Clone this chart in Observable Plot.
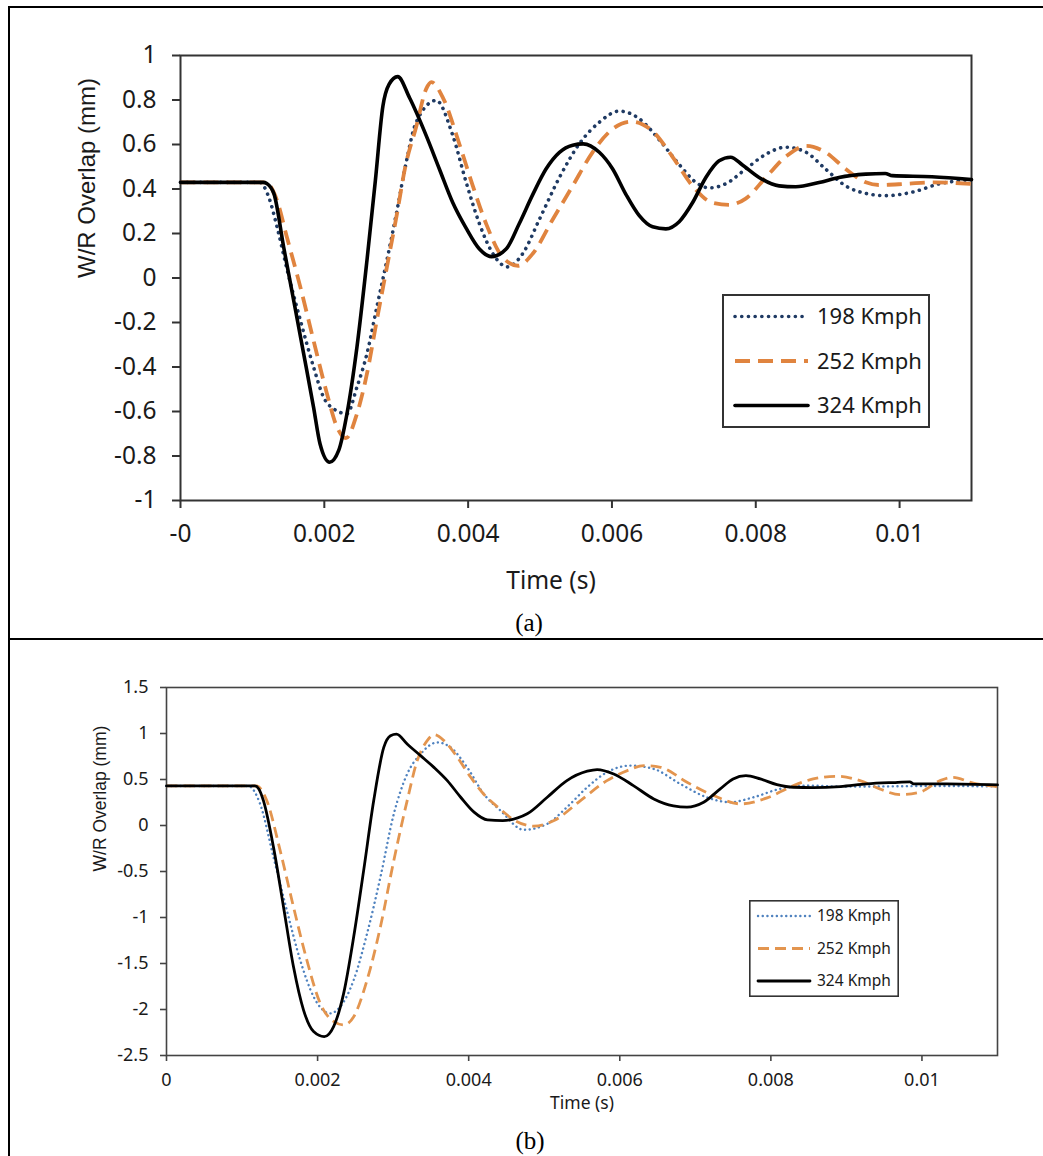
<!DOCTYPE html>
<html><head><meta charset="utf-8">
<script src="https://cdn.jsdelivr.net/npm/d3@7"></script>
<script src="https://cdn.jsdelivr.net/npm/@observablehq/plot@0.6"></script>
<style>
body{margin:0;background:#fff;}
#wrap{position:relative;width:1043px;height:1156px;overflow:hidden;font-family:"Noto Sans",sans-serif;background:#fff;}
.panel{position:absolute;left:0;width:1043px;}
.rule{position:absolute;background:#000;}
.cap{position:absolute;font-family:"Liberation Serif",serif;font-size:25px;color:#000;transform:translate(-50%,-50%);white-space:nowrap;}
.legend{position:absolute;}
</style></head><body><div id="wrap"></div>
<script>
// ---------- shared ----------
const seriesNames = ["198 Kmph", "252 Kmph", "324 Kmph"];
const xTicks = [0, 0.002, 0.004, 0.006, 0.008, 0.01];
const xLabelsA = ["-0", "0.002", "0.004", "0.006", "0.008", "0.01"];
const xLabelsB = ["0", "0.002", "0.004", "0.006", "0.008", "0.01"];
const yTicksA = [-1, -0.8, -0.6, -0.4, -0.2, 0, 0.2, 0.4, 0.6, 0.8, 1];
const yLabelsA = ["-1", "-0.8", "-0.6", "-0.4", "-0.2", "0", "0.2", "0.4", "0.6", "0.8", "1"];
const yTicksB = [-2.5, -2, -1.5, -1, -0.5, 0, 0.5, 1, 1.5];
const yLabelsB = ["-2.5", "-2", "-1.5", "-1", "-0.5", "0", "0.5", "1", "1.5"];
const xTitle = "Time (s)";
const yTitle = "W/R Overlap (mm)";

// ---------- panel (a) data ----------
const a198_t = [0, 0.0011, 0.00122, 0.00135, 0.00148, 0.001667, 0.00185, 0.00199, 0.00213, 0.002315, 0.002454, 0.002593, 0.00273, 0.00287, 0.00301, 0.003125, 0.003278, 0.003556, 0.003787, 0.00397, 0.004157, 0.004343, 0.004546, 0.00476, 0.00499, 0.00527, 0.005546, 0.005824, 0.0061, 0.00638, 0.00666, 0.006935, 0.007167, 0.00735, 0.00758, 0.00786, 0.00814, 0.00842, 0.0087, 0.00897, 0.00925, 0.00953, 0.0098, 0.01018, 0.01055, 0.011];
const a198_y = [0.43, 0.43, 0.37, 0.22, 0.04, -0.19, -0.40, -0.536, -0.588, -0.61, -0.49, -0.34, -0.131, 0.079, 0.303, 0.498, 0.70, 0.798, 0.64, 0.433, 0.244, 0.11, 0.05, 0.11, 0.263, 0.452, 0.603, 0.70, 0.75, 0.716, 0.62, 0.51, 0.43, 0.405, 0.423, 0.49, 0.556, 0.588, 0.565, 0.49, 0.414, 0.38, 0.37, 0.386, 0.423, 0.442];
const a252_t = [0, 0.00118, 0.001343, 0.00148, 0.001667, 0.00185, 0.002037, 0.002176, 0.0023, 0.002454, 0.002593, 0.00273, 0.00287, 0.00301, 0.003125, 0.003278, 0.003417, 0.00349, 0.00365, 0.00388, 0.004065, 0.00425, 0.00448, 0.004694, 0.0049, 0.005176, 0.005454, 0.00573, 0.00601, 0.00627, 0.006565, 0.00684, 0.00712, 0.0074, 0.00763, 0.00786, 0.00814, 0.00842, 0.0087, 0.00897, 0.00925, 0.00953, 0.00971, 0.01008, 0.01045, 0.011];
const a252_y = [0.43, 0.43, 0.348, 0.183, -0.041, -0.281, -0.52, -0.67, -0.72, -0.61, -0.43, -0.19, 0.049, 0.288, 0.498, 0.68, 0.85, 0.88, 0.81, 0.60, 0.414, 0.244, 0.093, 0.055, 0.11, 0.263, 0.414, 0.565, 0.67, 0.703, 0.66, 0.546, 0.414, 0.338, 0.329, 0.357, 0.452, 0.546, 0.594, 0.565, 0.49, 0.43, 0.418, 0.423, 0.43, 0.423];
const a324_t = [0, 0.00115, 0.0012, 0.0013, 0.001435, 0.001574, 0.001713, 0.00185, 0.00194, 0.002074, 0.0022, 0.002315, 0.002454, 0.002593, 0.00271, 0.002815, 0.0029, 0.00302, 0.003185, 0.003417, 0.0036, 0.003787, 0.00397, 0.004157, 0.004324, 0.004528, 0.00471, 0.0049, 0.005083, 0.00527, 0.005454, 0.0056, 0.005824, 0.00601, 0.006194, 0.00638, 0.006565, 0.00675, 0.006935, 0.00712, 0.007306, 0.00749, 0.00765, 0.007815, 0.008046, 0.008324, 0.008556, 0.00888, 0.009157, 0.00953, 0.0098, 0.0099, 0.01045, 0.011];
const a324_y = [0.43, 0.43, 0.425, 0.378, 0.138, -0.101, -0.341, -0.58, -0.745, -0.828, -0.775, -0.61, -0.31, 0.079, 0.438, 0.773, 0.87, 0.905, 0.81, 0.64, 0.49, 0.338, 0.225, 0.13, 0.096, 0.13, 0.244, 0.376, 0.49, 0.565, 0.597, 0.603, 0.565, 0.49, 0.376, 0.28, 0.23, 0.221, 0.253, 0.338, 0.452, 0.527, 0.543, 0.508, 0.452, 0.414, 0.41, 0.429, 0.452, 0.467, 0.47, 0.46, 0.455, 0.442];

// ---------- panel (b) data ----------
const b198_t = [0, 0.00108, 0.001239, 0.001416, 0.001593, 0.00177, 0.001947, 0.002168, 0.0023, 0.002478, 0.002655, 0.002832, 0.003009, 0.003186, 0.003363, 0.003584, 0.003761, 0.00398, 0.0042, 0.00442, 0.00473, 0.00504, 0.0053, 0.00557, 0.00583, 0.00614, 0.00645, 0.0068, 0.00715, 0.00746, 0.00777, 0.00812, 0.00848, 0.00892, 0.0095, 0.0102, 0.011];
const b198_y = [0.43, 0.43, 0.235, -0.343, -0.922, -1.464, -1.861, -2.042, -1.97, -1.68, -1.175, -0.56, 0.126, 0.56, 0.777, 0.903, 0.849, 0.632, 0.343, 0.163, -0.047, 0.018, 0.199, 0.416, 0.579, 0.651, 0.615, 0.452, 0.307, 0.253, 0.307, 0.398, 0.434, 0.423, 0.425, 0.43, 0.425];
const b252_t = [0, 0.00119, 0.001327, 0.001504, 0.001681, 0.001858, 0.002035, 0.002212, 0.002345, 0.002478, 0.002655, 0.002832, 0.003009, 0.003186, 0.003319, 0.003451, 0.00354, 0.003673, 0.00385, 0.004027, 0.0042, 0.0044, 0.0046, 0.00486, 0.00513, 0.00548, 0.00583, 0.0061, 0.00632, 0.00654, 0.00689, 0.00724, 0.0076, 0.00795, 0.0083, 0.00856, 0.00887, 0.00918, 0.00944, 0.00971, 0.00997, 0.01024, 0.01041, 0.01068, 0.011];
const b252_y = [0.43, 0.43, 0.271, -0.271, -0.885, -1.464, -1.933, -2.13, -2.168, -2.078, -1.68, -1.1, -0.38, 0.271, 0.705, 0.922, 0.987, 0.922, 0.741, 0.524, 0.34, 0.19, 0.06, -0.007, 0.054, 0.271, 0.488, 0.597, 0.651, 0.633, 0.47, 0.326, 0.235, 0.3, 0.434, 0.506, 0.535, 0.488, 0.398, 0.336, 0.362, 0.488, 0.524, 0.46, 0.423];
const b324_t = [0, 0.00117, 0.00122, 0.001283, 0.001416, 0.001549, 0.001681, 0.001814, 0.001947, 0.002088, 0.002212, 0.002345, 0.002478, 0.00261, 0.002743, 0.002876, 0.002965, 0.003044, 0.003186, 0.003363, 0.00354, 0.003717, 0.003894, 0.004071, 0.004248, 0.00445, 0.004775, 0.00504, 0.0053, 0.00557, 0.0057, 0.00592, 0.00618, 0.00645, 0.00671, 0.00689, 0.00711, 0.00733, 0.0075, 0.00767, 0.00786, 0.00808, 0.0083, 0.00856, 0.00892, 0.00927, 0.00962, 0.00984, 0.00989, 0.01033, 0.011];
const b324_y = [0.43, 0.43, 0.40, 0.27, -0.235, -0.885, -1.536, -2.006, -2.24, -2.295, -2.186, -1.825, -1.21, -0.488, 0.271, 0.849, 0.976, 0.994, 0.885, 0.759, 0.632, 0.488, 0.307, 0.145, 0.061, 0.054, 0.127, 0.307, 0.488, 0.59, 0.608, 0.56, 0.434, 0.289, 0.213, 0.199, 0.253, 0.398, 0.506, 0.542, 0.506, 0.445, 0.416, 0.412, 0.423, 0.452, 0.467, 0.474, 0.452, 0.452, 0.441];

// ---------- styles ----------
const stylesA = [
  {color: "#1f3a63", width: 3.6, dash: "0.1,6.6", cap: "round"},
  {color: "#e0843f", width: 3.8, dash: "15,8", cap: "butt"},
  {color: "#000000", width: 3.6, dash: null, cap: "round"}
];
const stylesB = [
  {color: "#4f82bf", width: 2.4, dash: "0.1,4.6", cap: "round"},
  {color: "#e3954f", width: 2.8, dash: "11,6", cap: "butt"},
  {color: "#000000", width: 2.8, dash: null, cap: "round"}
];

function rows(t, y) { return t.map((v, i) => ({t: v, y: y[i]})); }

function makePanel(cfg) {
  const marks = [Plot.frame({stroke: cfg.frameColor, strokeWidth: cfg.frameWidth})];
  cfg.series.forEach((s, k) => {
    const st = cfg.styles[k];
    marks.push(Plot.line(rows(s.t, s.y), {
      x: "t", y: "y", stroke: st.color, strokeWidth: st.width,
      strokeDasharray: st.dash || undefined, strokeLinecap: st.cap, strokeLinejoin: "round",
      curve: "monotone-x"
    }));
  });
  marks.push(Plot.axisX({
    ticks: xTicks, tickFormat: d => cfg.xLabels[xTicks.indexOf(d)],
    tickSize: cfg.tickSize, tickPadding: cfg.tickPadding, fontSize: cfg.tickFont,
    stroke: cfg.frameColor, strokeWidth: cfg.frameWidth, fill: "#1a1a1a", label: null
  }));
  marks.push(Plot.axisY({
    ticks: cfg.yTicks, tickFormat: d => cfg.yLabels[cfg.yTicks.indexOf(d)],
    tickSize: cfg.tickSize, tickPadding: cfg.tickPadding, fontSize: cfg.tickFont,
    stroke: cfg.frameColor, strokeWidth: cfg.frameWidth, fill: "#1a1a1a", label: null
  }));
  marks.push(Plot.text([xTitle], {text: d => d, frameAnchor: "bottom", dy: cfg.xTitleDy, dx: cfg.xTitleDx,
    fontSize: cfg.titleFont, fill: "#1a1a1a"}));
  marks.push(Plot.text([yTitle], {text: d => d, frameAnchor: "left", dx: cfg.yTitleDx, rotate: -90,
    fontSize: cfg.yTitleFont, fill: "#1a1a1a", fontFamily: "Liberation Sans"}));
  return Plot.plot({
    width: 1043, height: cfg.height,
    marginLeft: cfg.ml, marginRight: cfg.mr, marginTop: cfg.mt, marginBottom: cfg.mb,
    x: {domain: [0, 0.011]}, y: {domain: cfg.yDomain},
    style: {fontFamily: "Noto Sans", background: "transparent", overflow: "visible"},
    marks
  });
}

function makeLegend(cfg) {
  const svg = d3.create("svg").attr("width", cfg.w).attr("height", cfg.h)
    .style("position", "absolute").style("left", cfg.x + "px").style("top", cfg.y + "px");
  svg.append("rect").attr("x", cfg.bw / 2).attr("y", cfg.bw / 2)
    .attr("width", cfg.w - cfg.bw).attr("height", cfg.h - cfg.bw)
    .attr("fill", "#fff").attr("stroke", "#333").attr("stroke-width", cfg.bw);
  seriesNames.forEach((name, k) => {
    const st = cfg.styles[k];
    const yy = cfg.row0 + k * cfg.rowStep;
    const ln = svg.append("line").attr("x1", cfg.lx0).attr("x2", cfg.lx1).attr("y1", yy).attr("y2", yy)
      .attr("stroke", st.color).attr("stroke-width", st.width).attr("stroke-linecap", st.cap);
    if (st.dash) ln.attr("stroke-dasharray", st.dash);
    svg.append("text").attr("x", cfg.tx).attr("y", yy).attr("dy", "0.35em")
      .attr("font-family", "Noto Sans").attr("font-size", cfg.font).attr("fill", "#1a1a1a").text(name);
  });
  return svg.node();
}

const wrap = document.getElementById("wrap");

// panel (a)
const pa = document.createElement("div"); pa.className = "panel"; pa.style.top = "0px";
pa.appendChild(makePanel({
  height: 639, ml: 180, mr: 72, mt: 55, mb: 139, yDomain: [-1, 1],
  series: [{t: a198_t, y: a198_y}, {t: a252_t, y: a252_y}, {t: a324_t, y: a324_y}],
  styles: stylesA, xLabels: xLabelsA, yTicks: yTicksA, yLabels: yLabelsA,
  tickSize: 8, tickPadding: 16, tickFont: 24.5, frameColor: "#333", frameWidth: 2,
  titleFont: 24.5, yTitleFont: 24, xTitleDy: 88, xTitleDx: -25, yTitleDx: -93
}));
wrap.appendChild(pa);
pa.appendChild(makeLegend({x: 722, y: 294, w: 208, h: 134, bw: 2, styles: stylesA,
  row0: 22.5, rowStep: 44.5, lx0: 13, lx1: 86, tx: 95, font: 22}));

// panel (b)
const pb = document.createElement("div"); pb.className = "panel"; pb.style.top = "639px";
pb.appendChild(makePanel({
  height: 517, ml: 166, mr: 46, mt: 48, mb: 101, yDomain: [-2.5, 1.5],
  series: [{t: b198_t, y: b198_y}, {t: b252_t, y: b252_y}, {t: b324_t, y: b324_y}],
  styles: stylesB, xLabels: xLabelsB, yTicks: yTicksB, yLabels: yLabelsB,
  tickSize: 6, tickPadding: 12, tickFont: 18, frameColor: "#444", frameWidth: 1.6,
  titleFont: 17.5, yTitleFont: 17.5, xTitleDy: 53, xTitleDx: 0, yTitleDx: -66
}));
wrap.appendChild(pb);
pb.appendChild(makeLegend({x: 749, y: 261, w: 150, h: 97, bw: 1.6, styles: stylesB,
  row0: 16, rowStep: 32.5, lx0: 9, lx1: 61, tx: 68, font: 15.5}));

// table-cell rules and captions
[[9, 6, 1034, 2], [8, 6, 2, 1150], [9, 638, 1034, 2]].forEach(([x, y, w, h]) => {
  const r = document.createElement("div"); r.className = "rule";
  Object.assign(r.style, {left: x + "px", top: y + "px", width: w + "px", height: h + "px"});
  wrap.appendChild(r);
});
[["(a)", 529, 623], ["(b)", 530, 1141]].forEach(([txt, x, y]) => {
  const c = document.createElement("div"); c.className = "cap"; c.textContent = txt;
  c.style.left = x + "px"; c.style.top = y + "px"; wrap.appendChild(c);
});
</script></body></html>
